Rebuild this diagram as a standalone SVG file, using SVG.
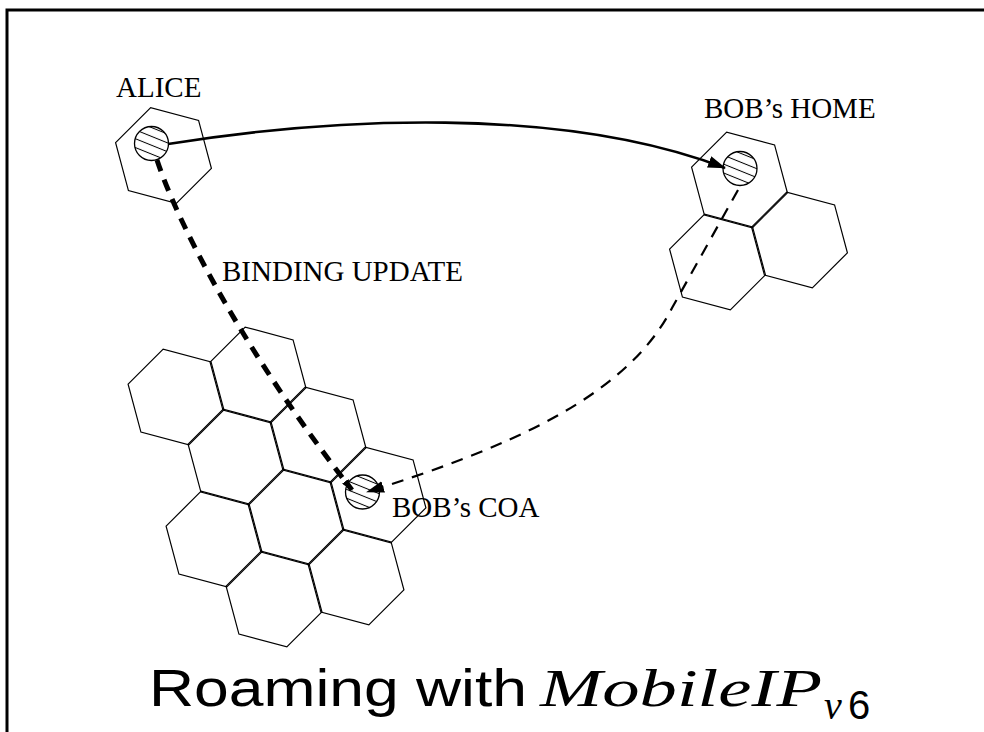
<svg xmlns="http://www.w3.org/2000/svg" xmlns:xlink="http://www.w3.org/1999/xlink" width="984" height="732" viewBox="0 0 984 732">
<style>
.hex{fill:none;stroke:#000;stroke-width:1.2}
.term{fill:url(#hatch);stroke:#000;stroke-width:1.3}
.lbl{font-family:"Liberation Serif","Times New Roman",serif;font-size:29px;fill:#000}
.solid{fill:none;stroke:#000;stroke-width:2.6}
.thick{fill:none;stroke:#000;stroke-width:5;stroke-dasharray:12 9}
.thin{fill:none;stroke:#000;stroke-width:2.2;stroke-dasharray:12 9}
</style>
<defs>
<polygon id="hexshape" points="47.91,12.84 12.84,47.91 -35.07,35.07 -47.91,-12.84 -12.84,-47.91 35.07,-35.07"/>
<pattern id="hatch" patternUnits="userSpaceOnUse" width="8" height="8.2" patternTransform="rotate(22)">
<rect width="8" height="8.2" fill="#fff"/>
<line x1="0" y1="4.1" x2="8" y2="4.1" stroke="#000" stroke-width="1"/>
</pattern>
<marker id="arrowBig" viewBox="0 0 18 12" refX="17" refY="6" markerWidth="18" markerHeight="12" markerUnits="userSpaceOnUse" orient="auto">
<path d="M0,0 L18,6 L0,12 z" fill="#000"/>
</marker>
<marker id="arrowSmall" viewBox="0 0 12 8" refX="11" refY="4" markerWidth="12" markerHeight="8" markerUnits="userSpaceOnUse" orient="auto">
<path d="M0,0 L12,4 L0,8 z" fill="#000"/>
</marker>
</defs>
<rect width="984" height="732" fill="#fff"/>
<path d="M7,732 V10 H984" fill="none" stroke="#000" stroke-width="3"/>

<g id="alice">
<use xlink:href="#hexshape" class="hex" x="163.5" y="155.5"/>
<circle class="term" cx="151.5" cy="143.5" r="17"/>
<text class="lbl" x="116" y="97">ALICE</text>
</g>

<g id="bob-home">
<use xlink:href="#hexshape" class="hex" x="739.5" y="180"/>
<use xlink:href="#hexshape" class="hex" x="799.5" y="240"/>
<use xlink:href="#hexshape" class="hex" x="717.5" y="262"/>
<circle class="term" cx="740" cy="168.5" r="17"/>
<text class="lbl" x="704" y="118">BOB’s HOME</text>
</g>

<g id="bob-coa">
<use xlink:href="#hexshape" class="hex" x="176" y="397"/>
<use xlink:href="#hexshape" class="hex" x="258" y="375"/>
<use xlink:href="#hexshape" class="hex" x="236" y="457"/>
<use xlink:href="#hexshape" class="hex" x="318" y="435"/>
<use xlink:href="#hexshape" class="hex" x="214" y="539"/>
<use xlink:href="#hexshape" class="hex" x="296" y="517"/>
<use xlink:href="#hexshape" class="hex" x="378" y="495"/>
<use xlink:href="#hexshape" class="hex" x="274" y="599"/>
<use xlink:href="#hexshape" class="hex" x="356" y="577"/>
<circle class="term" cx="362.5" cy="492" r="17"/>
<text class="lbl" x="392" y="517">BOB’s COA</text>
</g>

<g id="connectors">
<path class="solid" d="M168,144 C330,118 560,105 725,168" marker-end="url(#arrowBig)"/>
<path class="thick" d="M157,160 C180,230 250,360 352,490" marker-end="url(#arrowSmall)"/>
<path class="thin" d="M738,190 L672,308 C625,400 500,450 367,492" marker-end="url(#arrowBig)"/>
<text class="lbl" x="222" y="281">BINDING UPDATE</text>
</g>

<g id="title">
<text x="149" y="706" font-family="'Liberation Sans',Arial,sans-serif" font-size="52" textLength="378" lengthAdjust="spacingAndGlyphs">Roaming with</text>
<text x="540" y="706" font-family="'Liberation Serif','Times New Roman',serif" font-style="italic" font-size="52" textLength="282" lengthAdjust="spacingAndGlyphs">MobileIP</text>
<text x="824" y="719" font-family="'Liberation Serif','Times New Roman',serif" font-style="italic" font-size="40">v</text>
<text x="848" y="719" font-family="'Liberation Sans',Arial,sans-serif" font-size="40">6</text>
</g>
</svg>
